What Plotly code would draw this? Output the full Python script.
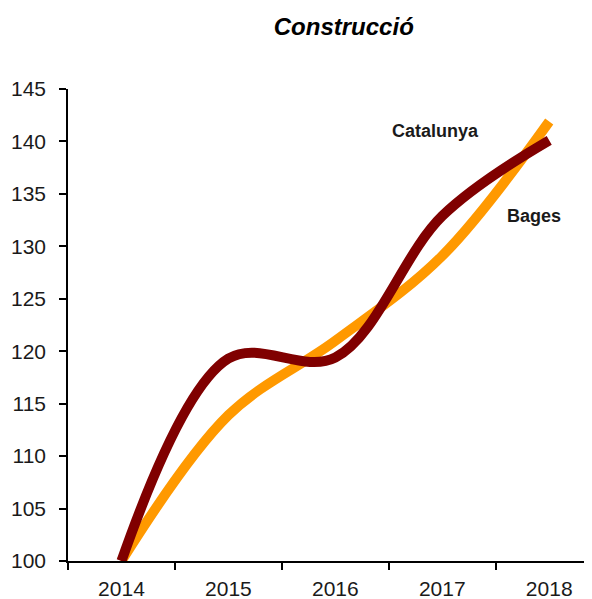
import plotly.graph_objects as go

years = [2014, 2015, 2016, 2017, 2018]
catalunya = [100, 113.9, 121.0, 129.1, 141.9]
bages = [100, 119.3, 119.4, 132.9, 140.1]

fig = go.Figure()
fig.add_trace(go.Scatter(x=years, y=catalunya, mode="lines", name="Catalunya",
                         line=dict(color="#FF9900", width=10, shape="spline", smoothing=1)))
fig.add_trace(go.Scatter(x=years, y=bages, mode="lines", name="Bages",
                         line=dict(color="#800000", width=10, shape="spline", smoothing=1)))

# series labels placed beside the lines
fig.add_annotation(x=2016.94, y=141.0, text="<b>Catalunya</b>", showarrow=False,
                   font=dict(size=18, color="#1a1a1a"))
fig.add_annotation(x=2017.86, y=132.9, text="<b>Bages</b>", showarrow=False,
                   font=dict(size=18, color="#1a1a1a"))

# page body has an 8px margin, so the figure is 8px smaller than the window
fig.update_layout(
    width=584, height=591,
    margin=dict(l=60, r=0, t=81, b=38),
    paper_bgcolor="white", plot_bgcolor="white",
    showlegend=False,
    font=dict(family="Liberation Sans, Arial, sans-serif", size=21, color="#1a1a1a"),
    title=dict(text="<b><i>Construcció</i></b>", x=0.575, xanchor="center",
               y=0.968, yanchor="middle", font=dict(size=24, color="black")),
)
fig.update_xaxes(
    range=[2013.5, 2018.4], tickvals=years, ticktext=[str(y) for y in years],
    ticks="", showgrid=False, zeroline=False, showline=True, automargin=False,
    linecolor="black", linewidth=1.5, ticklabelstandoff=8,
    minor=dict(tickvals=[2013.5, 2014.5, 2015.5, 2016.5, 2017.5], ticks="outside",
               ticklen=7, tickcolor="black", tickwidth=1.5, showgrid=False),
)
fig.update_yaxes(
    range=[100, 145], dtick=5, ticks="outside", ticklen=7, tickcolor="black",
    tickwidth=1.5, showgrid=False, zeroline=False, showline=True, automargin=False,
    linecolor="black", linewidth=1.5, ticklabelstandoff=9,
)

fig.write_html("out.html")
